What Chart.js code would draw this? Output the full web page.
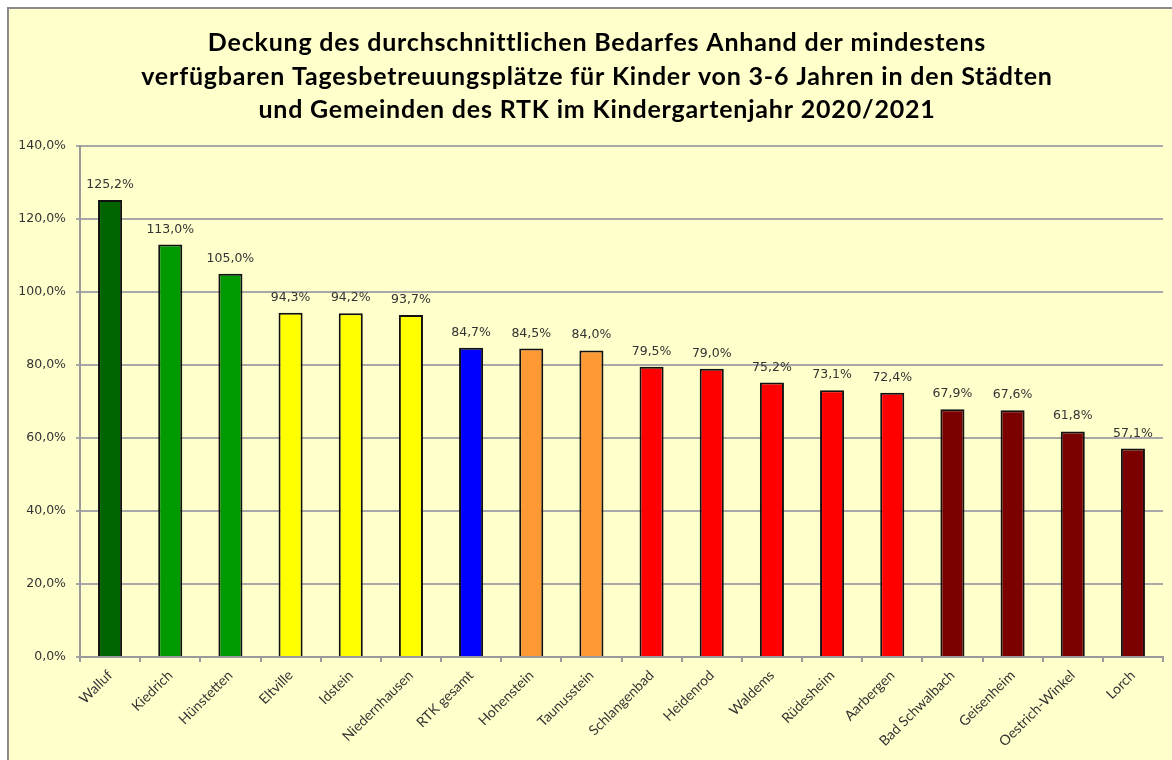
<!DOCTYPE html>
<html>
<head>
<meta charset="utf-8">
<script src="https://cdn.jsdelivr.net/npm/chart.js@4"></script>
<style>
  body { margin: 0; background: #ffffff; }
  .box {
    position: absolute; left: 7px; top: 7px; width: 1180px; height: 770px;
    background: #FFFFCC; border-top: 2px solid #8a8a8a; border-left: 2px solid #8a8a8a;
  }
  #myChart { position: absolute; left: 0; top: 0; }
</style>
</head>
<body>
<div class="box"></div>
<canvas id="myChart" width="1172" height="760"></canvas>
<script>
const orte = [
  'Walluf', 'Kiedrich', 'Hünstetten', 'Eltville', 'Idstein', 'Niedernhausen',
  'RTK gesamt', 'Hohenstein', 'Taunusstein', 'Schlangenbad', 'Heidenrod', 'Waldems',
  'Rüdesheim', 'Aarbergen', 'Bad Schwalbach', 'Geisenheim', 'Oestrich-Winkel', 'Lorch'
];
const deckung = [125.2, 113.0, 105.0, 94.3, 94.2, 93.7, 84.7, 84.5, 84.0, 79.5, 79.0, 75.2, 73.1, 72.4, 67.9, 67.6, 61.8, 57.1];
const farben = [
  '#006400', '#009900', '#009900', '#FFFF00', '#FFFF00', '#FFFF00',
  '#0000FF', '#FF9933', '#FF9933', '#FF0000', '#FF0000', '#FF0000',
  '#FF0000', '#FF0000', '#7B0000', '#7B0000', '#7B0000', '#7B0000'
];
const titel = [
  'Deckung des durchschnittlichen Bedarfes Anhand der mindestens',
  'verfügbaren Tagesbetreuungsplätze für Kinder von 3-6 Jahren in den Städten',
  'und Gemeinden des RTK im Kindergartenjahr 2020/2021'
];

function prozent(v) {
  return v.toFixed(1).replace('.', ',') + '%';
}

// Titel selbst zeichnen, damit er wie im Original leicht rechts der Mitte sitzt
const titelPlugin = {
  id: 'titelPlugin',
  afterDraw(chart) {
    const ctx = chart.ctx;
    ctx.save();
    ctx.font = 'bold 25px Lato';
    ctx.letterSpacing = '0.8px';
    ctx.fillStyle = '#000000';
    ctx.textAlign = 'center';
    ctx.textBaseline = 'middle';
    titel.forEach(function(zeile, i) {
      ctx.fillText(zeile, 597, 43 + i * 33.5);
    });
    ctx.restore();
  }
};

// Werte ueber den Balken
const wertLabels = {
  id: 'wertLabels',
  afterDatasetsDraw(chart) {
    const ctx = chart.ctx;
    const meta = chart.getDatasetMeta(0);
    ctx.save();
    ctx.font = '12.5px "DejaVu Sans"';
    ctx.fillStyle = '#333333';
    ctx.textAlign = 'center';
    ctx.textBaseline = 'bottom';
    meta.data.forEach(function(bar, i) {
      ctx.fillText(prozent(deckung[i]), bar.x, bar.y - 9);
    });
    ctx.restore();
  }
};

const data = {
  labels: orte,
  datasets: [{
    data: deckung,
    backgroundColor: farben,
    borderColor: '#111111',
    borderWidth: 2,
    barPercentage: 0.4,
    categoryPercentage: 1
  }]
};

const config = {
  type: 'bar',
  data: data,
  plugins: [wertLabels, titelPlugin],
  options: {
    responsive: false,
    animation: false,
    layout: { padding: { left: 0, right: 9, top: 146, bottom: 0 } },
    plugins: {
      legend: { display: false },
      tooltip: { enabled: false },
      title: { display: false }
    },
    scales: {
      x: {
        afterFit: function(scale) { scale.height = 103; },
        grid: { drawOnChartArea: false, drawTicks: true, tickLength: 5, color: '#9a9a9a', lineWidth: 2 },
        border: { color: '#9a9a9a', width: 2 },
        ticks: {
          color: '#333333',
          font: { family: 'Lato', size: 14 },
          minRotation: 45,
          maxRotation: 45,
          autoSkip: false,
          padding: 5
        }
      },
      y: {
        min: 0,
        max: 140,
        afterFit: function(scale) { scale.width = 80; },
        grid: { color: '#a8a8a8', lineWidth: 2, tickLength: 4 },
        border: { color: '#9a9a9a', width: 2 },
        ticks: {
          stepSize: 20,
          color: '#333333',
          font: { family: 'DejaVu Sans', size: 12.5 },
          padding: 10,
          callback: function(v) { return prozent(v); }
        }
      }
    }
  }
};

const myChart = new Chart(document.getElementById('myChart').getContext('2d'), config);
</script>
</body>
</html>
